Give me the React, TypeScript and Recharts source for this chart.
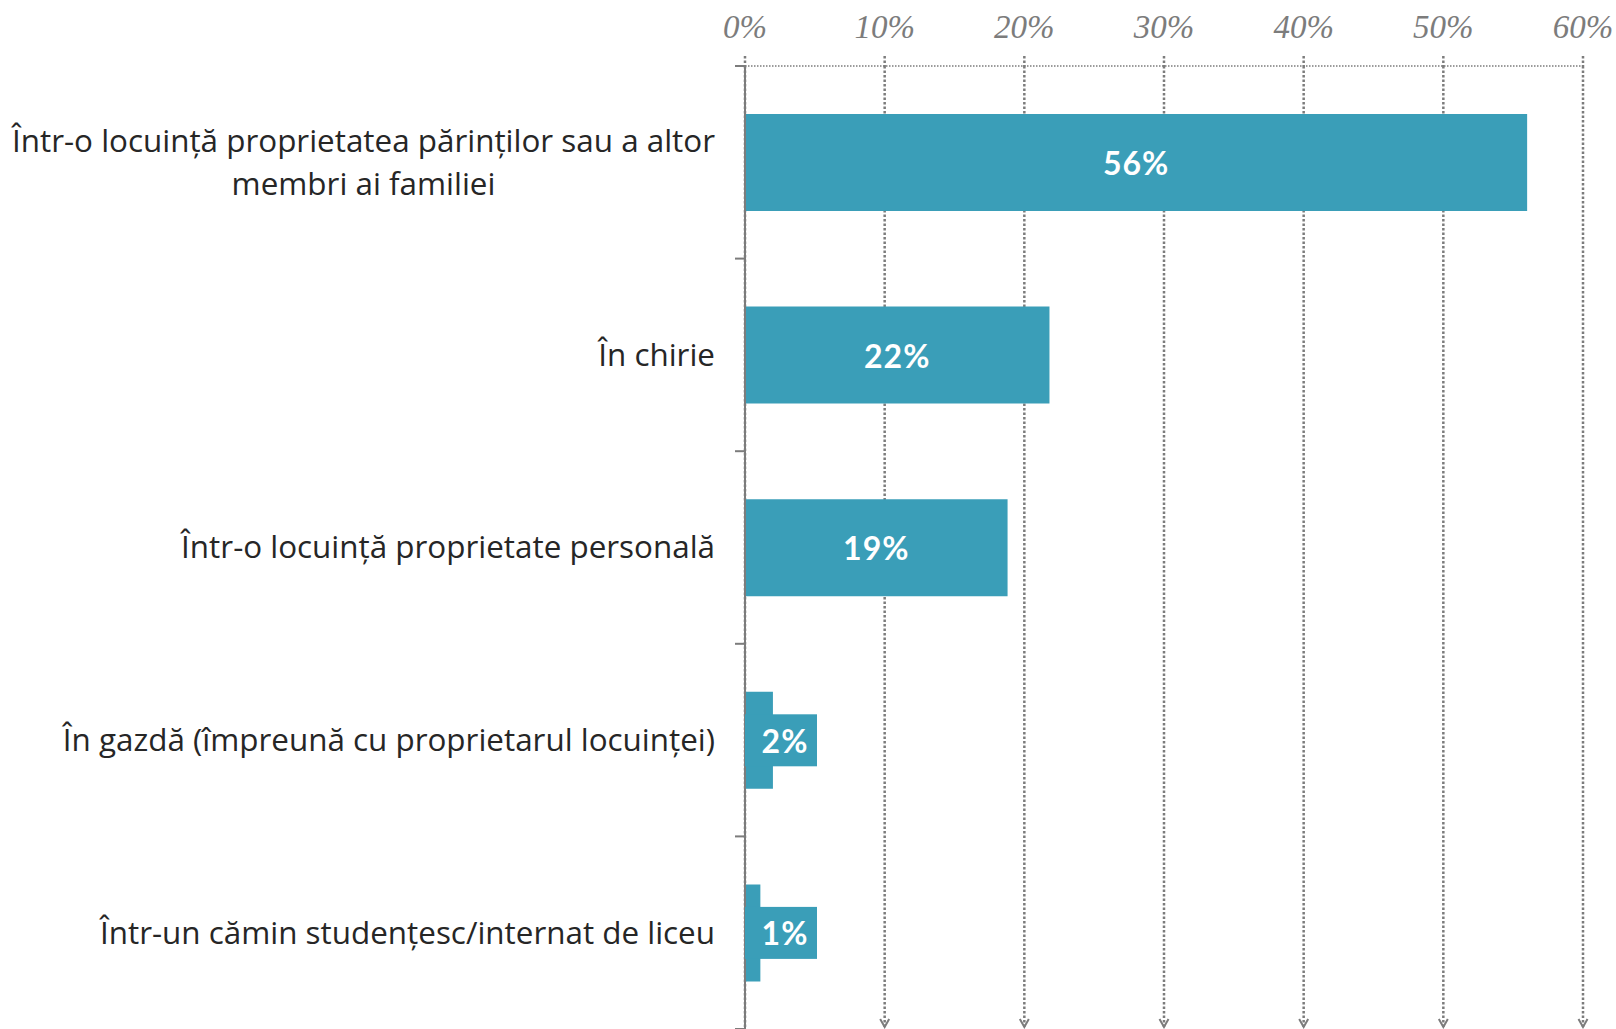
import React from "react";
import { BarChart, Bar, XAxis, YAxis, CartesianGrid, LabelList } from "recharts";

const categories = [
  "Într-o locuință proprietatea părinților sau a altor membri ai familiei",
  "În chirie",
  "Într-o locuință proprietate personală",
  "În gazdă (împreună cu proprietarul locuinței)",
  "Într-un cămin studențesc/internat de liceu",
];
const shares = [56.0, 21.8, 18.8, 2.0, 1.1];
const xTicks = [0, 10, 20, 30, 40, 50, 60];

const data = categories.map((name, i) => ({ name, value: shares[i] }));

const W = 1616;
const H = 1029;
const AXIS_W = 745; // left area holding the category labels
const TOP = 66;
const BAR_COLOR = "#3a9eb8";
const GREY = "#7c7c7c";
const LABEL_SIZE = 31.4;
const LABEL_FAMILY = "Open Sans";

let ctx: CanvasRenderingContext2D | null = null;
function measure(s: string) {
  if (!ctx) ctx = document.createElement("canvas").getContext("2d");
  if (!ctx) return s.length * LABEL_SIZE * 0.5;
  ctx.font = `${LABEL_SIZE}px "${LABEL_FAMILY}"`;
  return ctx.measureText(s).width;
}

function wrap(s: string, max: number) {
  const out: string[] = [];
  let cur = "";
  s.split(" ").forEach((w) => {
    if (cur && (cur + " " + w).length > max) {
      out.push(cur);
      cur = w;
    } else {
      cur = cur ? cur + " " + w : w;
    }
  });
  if (cur) out.push(cur);
  return out;
}

function CategoryTick(props: any) {
  const { y, payload, index } = props;
  const band = (H - TOP) / categories.length;
  const right = AXIS_W - 30;
  const lines = wrap(String(payload.value), 52);
  const lh = 43;
  const maxW = Math.max(...lines.map(measure));
  const multi = lines.length > 1;
  const y0 = y - ((lines.length - 1) * lh) / 2;
  return (
    <g>
      {index === 0 && (
        <line x1={AXIS_W - 10} x2={AXIS_W} y1={y - band / 2} y2={y - band / 2} stroke={GREY} strokeWidth={2} />
      )}
      <line x1={AXIS_W - 10} x2={AXIS_W} y1={y + band / 2} y2={y + band / 2} stroke={GREY} strokeWidth={2} />
      {lines.map((l, i) => (
        <text
          key={i}
          x={multi ? right - maxW / 2 : right}
          y={y0 + i * lh}
          dy="0.35em"
          textAnchor={multi ? "middle" : "end"}
          fontFamily={LABEL_FAMILY}
          fontSize={LABEL_SIZE}
          fill="#262626"
        >
          {l}
        </text>
      ))}
    </g>
  );
}

function BarLabel(props: any) {
  const vb = props.viewBox || props;
  const x = Number(vb.x);
  const y = Number(vb.y);
  const width = Number(vb.width);
  const height = Number(vb.height);
  const cy = y + height / 2;
  const text = `${Math.round(Number(props.value))}%`;
  const style = {
    fontFamily: "Lato",
    fontWeight: 700,
    fontSize: 32,
    letterSpacing: 1,
    fill: "#ffffff",
  } as const;
  if (width < 80) {
    return (
      <g>
        <rect x={x} y={cy - 26} width={72} height={52} fill={BAR_COLOR} />
        <text x={x + 40} y={cy} textAnchor="middle" dominantBaseline="central" style={style}>
          {text}
        </text>
      </g>
    );
  }
  return (
    <text x={x + width / 2} y={cy} textAnchor="middle" dominantBaseline="central" style={style}>
      {text}
    </text>
  );
}

const gridLine = (p: any) => {
  const { x1, y1, x2, y2 } = p;
  const arrow = x1 > AXIS_W + 1;
  return (
    <g key={p.key}>
      <line x1={x1} y1={y1} x2={x2} y2={y2} stroke={GREY} strokeWidth={2.5} strokeDasharray="2.5 2" />
      {arrow && (
        <polyline
          points={`${x2 - 4.5},${y2 - 10} ${x2},${y2 - 2} ${x2 + 4.5},${y2 - 10}`}
          fill="none"
          stroke={GREY}
          strokeWidth={2}
        />
      )}
    </g>
  );
};

export default function App() {
  return (
    <div style={{ position: "absolute", left: 0, top: 0, background: "#fff" }}>
      <BarChart
        width={W}
        height={H}
        data={data}
        layout="vertical"
        margin={{ top: 0, right: 33, bottom: 0, left: 0 }}
      >
        <CartesianGrid horizontal={false} vertical={gridLine} />
        <XAxis
          type="number"
          orientation="top"
          domain={[0, 60]}
          ticks={xTicks}
          interval={0}
          height={TOP}
          tickSize={10}
          tickMargin={18}
          tickFormatter={(v) => `${v}%`}
          tick={{ fill: GREY, fontFamily: "Liberation Serif", fontStyle: "italic", fontSize: 33 }}
          tickLine={{ stroke: GREY, strokeWidth: 2.5, strokeDasharray: "2.5 2" }}
          axisLine={{ stroke: GREY, strokeWidth: 1.5, strokeDasharray: "1.5 1.5" }}
        />
        <YAxis
          type="category"
          dataKey="name"
          width={AXIS_W}
          interval={0}
          tickLine={false}
          axisLine={{ stroke: GREY, strokeWidth: 2 }}
          tick={<CategoryTick />}
        />
        <Bar dataKey="value" fill={BAR_COLOR} barSize={97} isAnimationActive={false}>
          <LabelList dataKey="value" content={<BarLabel />} />
        </Bar>
      </BarChart>
    </div>
  );
}
